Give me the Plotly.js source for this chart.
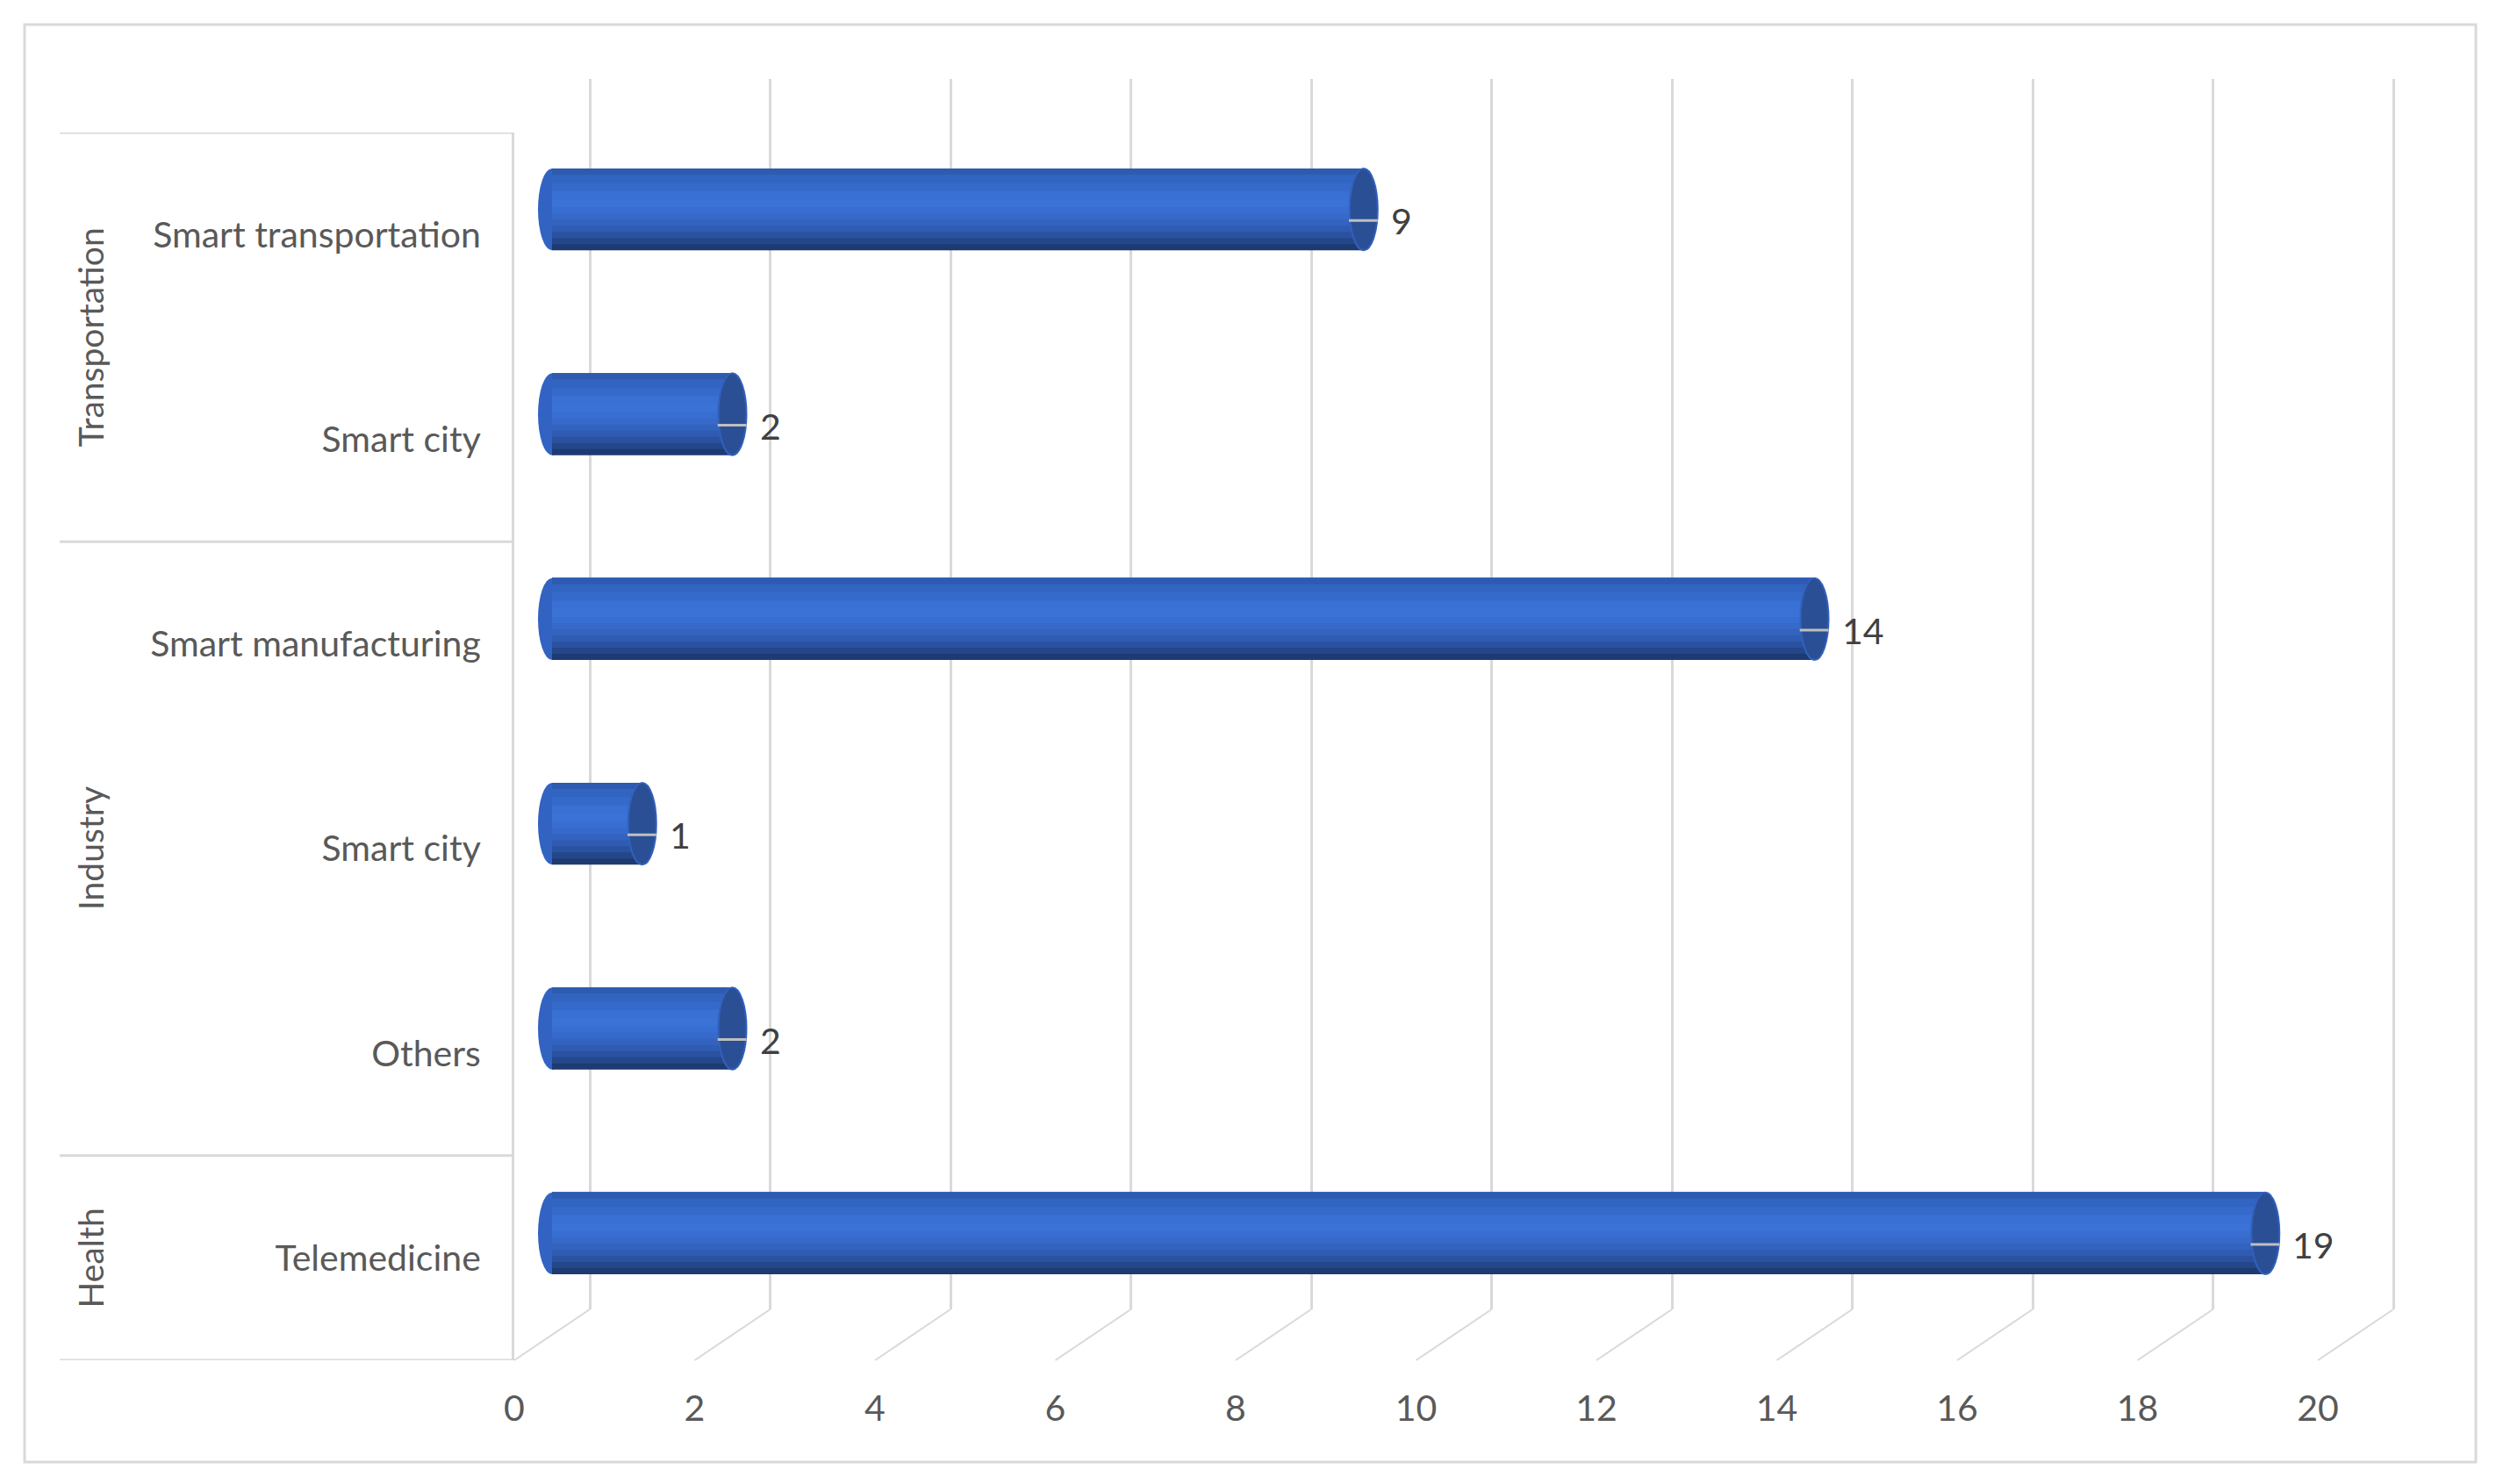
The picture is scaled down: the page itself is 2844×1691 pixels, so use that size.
<!DOCTYPE html>
<html>
<head>
<meta charset="utf-8">
<script src="https://cdn.plot.ly/plotly-3.0.1.min.js"></script>
<style>
  html, body { margin: 0; padding: 0; background: #ffffff; }
  #appAreas { width: 2844px; height: 1691px; }
</style>
</head>
<body>
<div id="appAreas"></div>
<script>
// bottom to top, the way the category axis reads
const groups = ["Health", "Industry", "Industry", "Industry", "Transportation", "Transportation"];
const subLabels = ["Telemedicine", "Others", "Smart city", "Smart manufacturing", "Smart city", "Smart transportation"];
const counts = [19, 2, 1, 14, 2, 9];
const xTicks = [0, 2, 4, 6, 8, 10, 12, 14, 16, 18, 20];

function plotAppAreas() {
  const W = 2844;
  const H = 1691;
  const unit = 102.75; // px per unit on every plane
  const font = "Lato, 'Open Sans', sans-serif";
  const grey = "#d9d9d9";
  const pos = subLabels.map((_, i) => i);

  // shading of the cylinder; each band runs from its bottom up to the top edge
  const bands = [
    { bottom: -0.2, color: "#1e3a72" },
    { bottom: -0.17, color: "#24478a" },
    { bottom: -0.14, color: "#2a52a0" },
    { bottom: -0.11, color: "#2f5bb2" },
    { bottom: -0.08, color: "#3363bf" },
    { bottom: -0.05, color: "#3669c9" },
    { bottom: -0.02, color: "#386ed1" },
    { bottom: 0.01, color: "#3a72d6" },
    { bottom: 0.05, color: "#3870d3" },
    { bottom: 0.09, color: "#356acb" },
    { bottom: 0.13, color: "#3264c1" },
    { bottom: 0.17, color: "#2e5bb1" },
  ];

  // bars live on x2/y2, drawn above the back wall gridlines of x/y
  const traces = bands.map((b) => ({
    x: counts,
    y: pos,
    xaxis: "x2",
    yaxis: "y2",
    type: "bar",
    orientation: "h",
    width: 0.2 - b.bottom,
    offset: b.bottom,
    marker: { color: b.color, line: { width: 0 } },
    hoverinfo: "skip",
    showlegend: false,
  }));

  // empty traces so the back wall and front edge subplots exist
  traces.unshift({ x: [], y: [], type: "scatter", xaxis: "x", yaxis: "y", hoverinfo: "skip", showlegend: false });
  traces.push({ x: [], y: [], type: "scatter", xaxis: "x3", yaxis: "y3", hoverinfo: "skip", showlegend: false });

  const capW = 16 / unit;
  const shapes = [];

  // outer frame
  shapes.push({
    type: "rect", xref: "paper", yref: "paper",
    x0: 28 / W, x1: 2821 / W, y0: 1 - 1666 / H, y1: 1 - 28 / H,
    line: { color: grey, width: 3 },
  });

  // group separators of the category box
  const bounds = [-0.5];
  for (let i = 1; i < groups.length; i++) {
    if (groups[i] !== groups[i - 1]) bounds.push(i - 0.5);
  }
  bounds.push(groups.length - 0.5);
  bounds.forEach((b) => {
    shapes.push({
      type: "line", xref: "paper", yref: "y3",
      x0: 68 / W, x1: 586 / W, y0: b, y1: b,
      line: { color: grey, width: 3 },
    });
  });

  // floor lines from back wall to front edge
  xTicks.forEach((t) => {
    shapes.push({
      type: "line", xref: "paper", yref: "paper",
      x0: (672 + t * unit) / W, x1: (586 + t * unit) / W,
      y0: 1 - 1492 / H, y1: 1 - 1550 / H,
      line: { color: grey, width: 2 },
    });
  });

  // cylinder ends
  counts.forEach((v, i) => {
    shapes.push({
      type: "circle", xref: "x2", yref: "y2", layer: "below",
      x0: -capW, x1: capW, y0: i - 0.2, y1: i + 0.2,
      fillcolor: "#3263c2", line: { width: 0 },
    });
    shapes.push({
      type: "circle", xref: "x2", yref: "y2",
      x0: v - capW, x1: v + capW, y0: i - 0.2, y1: i + 0.2,
      fillcolor: "#2b4f95", line: { color: "#3261bd", width: 2 },
    });
    shapes.push({
      type: "line", xref: "x2", yref: "y2",
      x0: v - capW * 1.05, x1: v + capW, y0: i - 0.054, y1: i - 0.054,
      line: { color: "#bfbfbf", width: 3 },
    });
  });

  const annotations = counts.map((v, i) => ({
    x: v, y: i, xref: "x2", yref: "y2",
    text: String(v), showarrow: false,
    xanchor: "left", xshift: 29, yshift: -13,
    font: { family: font, size: 41, color: "#404040" },
  }));

  const groupNames = [...new Set(groups)];
  groupNames.forEach((g) => {
    const idx = pos.filter((i) => groups[i] === g);
    const mid = (idx[0] + idx[idx.length - 1]) / 2;
    annotations.push({
      x: 103 / W, y: mid, xref: "paper", yref: "y3",
      xanchor: "center", yanchor: "middle",
      text: g, showarrow: false, textangle: -90,
      font: { family: font, size: 39, color: "#595959" },
    });
  });

  const xMin = -0.25;
  const xMax = 20.5;
  const gMin = -0.2;
  const gMax = 20.2;

  const layout = {
    width: W,
    height: H,
    margin: { l: 0, r: 0, t: 0, b: 0, pad: 0 },
    paper_bgcolor: "#ffffff",
    plot_bgcolor: "rgba(0,0,0,0)",
    barmode: "overlay",
    showlegend: false,
    // back wall: the gridlines
    xaxis: {
      domain: [(672 + gMin * unit) / W, (672 + gMax * unit) / W], range: [gMin, gMax], anchor: "y",
      tickvals: xTicks, showgrid: true, gridcolor: grey, gridwidth: 3,
      zeroline: false, showticklabels: false, showline: false, ticks: "",
    },
    yaxis: {
      domain: [1 - 1492 / H, 1 - 90 / H], range: [0, 1], anchor: "x",
      showgrid: false, zeroline: false, showticklabels: false, showline: false,
    },
    // middle plane: the bars
    xaxis2: {
      domain: [(629 + xMin * unit) / W, (629 + xMax * unit) / W], range: [xMin, xMax], anchor: "y2",
      showgrid: false, zeroline: false, showticklabels: false, showline: false,
    },
    yaxis2: {
      domain: [1 - 1522 / H, 1 - 122 / H], range: [-0.5, 5.5], anchor: "x2",
      showgrid: false, zeroline: false, showticklabels: false, showline: false,
    },
    // front edge: the labels
    xaxis3: {
      domain: [586 / W, (586 + 20 * unit) / W], range: [0, 20], anchor: "y3",
      tickvals: xTicks, showgrid: false, zeroline: false, showline: false,
      ticks: "", ticklabelstandoff: 27,
      tickfont: { family: font, size: 41, color: "#595959" },
    },
    yaxis3: {
      domain: [1 - 1550 / H, 1 - 151 / H], range: [-0.5, 5.5], anchor: "x3",
      tickvals: pos, ticktext: subLabels,
      showgrid: false, zeroline: false, ticks: "", ticklabelstandoff: 27,
      showline: true, linecolor: grey, linewidth: 3,
      tickfont: { family: font, size: 41, color: "#595959" },
    },
    shapes: shapes,
    annotations: annotations,
  };

  Plotly.newPlot("appAreas", traces, layout, { displayModeBar: false, staticPlot: true });
}

plotAppAreas();
</script>
</body>
</html>
